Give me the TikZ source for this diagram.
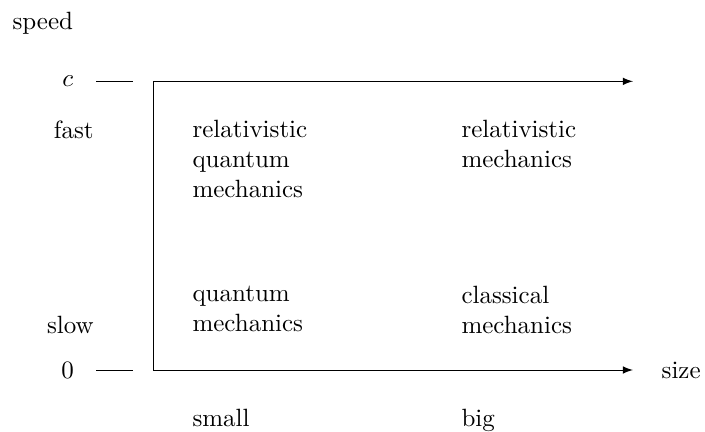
\documentclass[tikz,border=0pt]{standalone}
\usepackage{amsmath}
\usepackage{tikz}

\begin{document}
\begin{tikzpicture}[box/.style={anchor=north west,align=left}]
\useasboundingbox (-2.152,-0.858) rectangle (7.764,5.204);
\coordinate (O) at (0,0);
\coordinate (T) at (0,4.06);
\coordinate (X) at (6.75,0);
\coordinate (Y) at (6.75,4.06);
\coordinate (C1) at (-0.8,4.06);
\coordinate (C2) at (-0.28,4.06);
\coordinate (Z1) at (-0.8,0);
\coordinate (Z2) at (-0.28,0);

\node (S) at (-1.55,4.88) {speed};
\node (C) at (-1.2,4.06) {$c$};
\node (Z) at (-1.2,0) {$0$};
\node[anchor=east] (F) at (-0.71,3.38) {fast};
\node[anchor=east] (L) at (-0.71,0.63) {slow};
\node[anchor=west] (R) at (7.03,0) {size};
\node[anchor=base west] (SM) at (0.432,-0.8) {small};
\node[anchor=base west] (BG) at (4.215,-0.8) {big};

\node[box] (RQM) at (0.432,3.64) {relativistic\\quantum\\mechanics};
\node[box] (RM) at (4.215,3.64) {relativistic\\mechanics};
\node[box] (QM) at (0.432,1.3) {quantum\\mechanics};
\node[box] (CM) at (4.215,1.3) {classical\\mechanics};

\draw[latex-latex] (Y) -- (T) -- (O) -- (X);
\draw (C1) -- (C2);
\draw (Z1) -- (Z2);
\end{tikzpicture}
\end{document}
